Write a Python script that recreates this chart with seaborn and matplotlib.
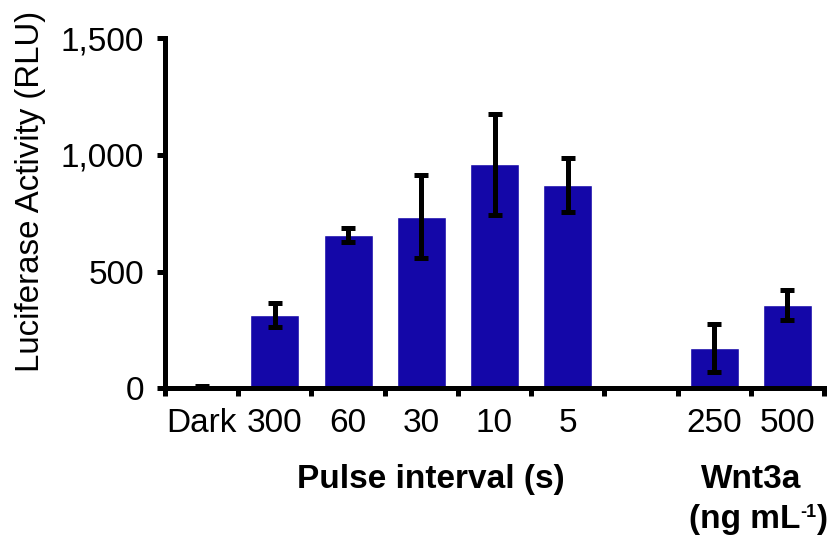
import matplotlib
matplotlib.use("Agg")
import matplotlib.pyplot as plt
import seaborn as sns
import pandas as pd
import numpy as np
from matplotlib.ticker import FuncFormatter, FixedLocator
from matplotlib.offsetbox import TextArea, HPacker, AnnotationBbox

categories = ["Dark", "300", "60", "30", "10", "5", "", "250", "500"]
values = [5, 315, 657, 735, 960, 871, np.nan, 172, 357]
errors = [7, 52, 32, 178, 216, 116, np.nan, 102, 66]

sns.set_theme(style="white")
plt.rcParams["font.family"] = ["Liberation Sans", "DejaVu Sans"]

FS = 24

df = pd.DataFrame({"cond": categories, "val": values, "err": errors})

fig = plt.figure(figsize=(8.32, 5.43), dpi=100)
ax = fig.add_axes([165/832, 1-388.3/543, 659/832, 350/543])

bar_color = "#1407A8"
sns.barplot(data=df, x="cond", y="val", order=categories, color=bar_color,
            saturation=1, width=0.67, errorbar=None, ax=ax, zorder=2)

pos = np.arange(len(categories))
mask = ~np.isnan(df["val"].values)
ax.errorbar(pos[mask], df["val"].values[mask], yerr=df["err"].values[mask],
            fmt="none", ecolor="black", elinewidth=3.6, capsize=5, capthick=3.6, zorder=3)

ax.set_xlim(-0.5, len(categories) - 0.5)
ax.set_ylim(0, 1500)

for s in ["top", "right"]:
    ax.spines[s].set_visible(False)
for s in ["left", "bottom"]:
    ax.spines[s].set_linewidth(3.6)
    ax.spines[s].set_color("black")

ax.yaxis.set_major_locator(FixedLocator([0, 500, 1000, 1500]))
ax.yaxis.set_major_formatter(FuncFormatter(lambda v, p: f"{int(v):,}"))
ax.tick_params(axis="y", which="major", direction="out", length=6, width=3.6,
               color="black", labelsize=FS, pad=9, left=True, labelcolor="black")

ax.xaxis.set_major_locator(FixedLocator(np.arange(-0.5, len(categories), 1.0)))
ax.xaxis.set_major_formatter(FuncFormatter(lambda v, p: ""))
ax.xaxis.set_minor_locator(FixedLocator(pos))
ax.set_xticklabels(categories, minor=True)
ax.tick_params(axis="x", which="major", direction="out", length=6, width=3.6,
               color="black", bottom=True)
ax.tick_params(axis="x", which="minor", length=0, labelsize=FS, pad=14,
               labelcolor="black")
ax.set_xlabel("")
ax.set_ylabel("Luciferase Activity (RLU)", fontsize=23.8, color="black")
ax.yaxis.set_label_coords(-0.181, 0.562)

ax.text(3.13, -0.26, "Pulse interval (s)", transform=ax.get_xaxis_transform(),
        ha="center", va="center", fontsize=FS, fontweight="bold", color="black")
ax.text(7.5, -0.26, "Wnt3a", transform=ax.get_xaxis_transform(),
        ha="center", va="center", fontsize=FS, fontweight="bold", color="black")

bold = dict(fontsize=FS, fontweight="bold", color="black")
sup = dict(fontsize=13, fontweight="bold", color="black")
unit = HPacker(children=[TextArea("(ng mL", textprops=bold),
                         TextArea("-1", textprops=sup),
                         TextArea(")", textprops=bold)],
               align="top", pad=0, sep=0)
ab = AnnotationBbox(unit, (7.6, -0.375), xycoords=ax.get_xaxis_transform(),
                    box_alignment=(0.5, 0.5), frameon=False, pad=0,
                    annotation_clip=False)
ax.add_artist(ab)

fig.savefig("out.png", dpi=100)
